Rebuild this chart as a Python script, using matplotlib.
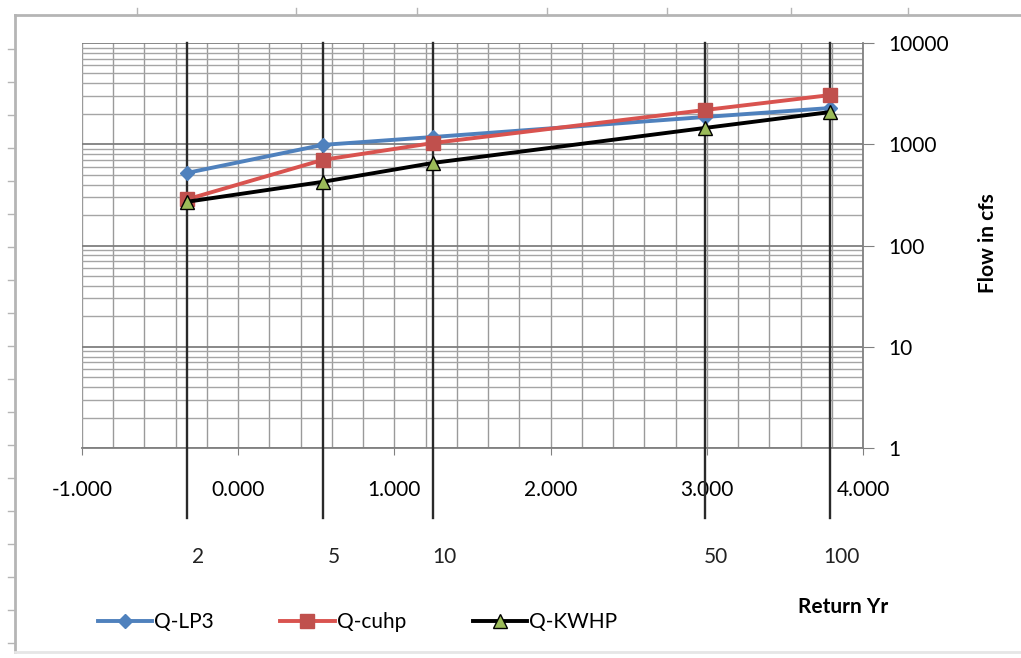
import numpy as np
import matplotlib.pyplot as plt
from matplotlib.lines import Line2D
from matplotlib.ticker import NullFormatter
from matplotlib.transforms import blended_transform_factory

# return periods and their frequency-factor positions on the x axis
return_yr = ['2', '5', '10', '50', '100']
kt = [-0.33, 0.54, 1.25, 2.99, 3.79]

# peak flows (cfs)
q_lp3 = [520, 985, 1180, 1860, 2280]
q_cuhp = [285, 700, 1030, 2180, 3060]
q_kwhp = [270, 425, 655, 1450, 2080]

x_ticks = [-1, 0, 1, 2, 3, 4]
y_ticks = [1, 10, 100, 1000, 10000]

plt.rcParams['font.family'] = ['Lato', 'DejaVu Sans']

W, H = 1021, 658
fig = plt.figure(figsize=(W / 100, H / 100), dpi=100)
ax = fig.add_axes([82 / W, 1 - 448 / H, (863 - 82) / W, (448 - 43) / H])

ax.set_xlim(-1, 4)
ax.set_yscale('log')
ax.set_ylim(1, 10000)

# grid
ax.set_xticks(x_ticks)
ax.set_xticks(np.arange(-1, 4.01, 0.2), minor=True)
ax.set_xticklabels([f'{v:.3f}' for v in x_ticks])
ax.set_yticks(y_ticks)
ax.set_yticklabels([str(v) for v in y_ticks])
ax.yaxis.set_minor_formatter(NullFormatter())
ax.grid(which='both', axis='x', color='#9a9a9a', lw=1.0)
ax.grid(which='major', axis='y', color='#7f7f7f', lw=1.3)
ax.grid(which='minor', axis='y', color='#a5a5a5', lw=1.0)
ax.set_axisbelow(True)

ax.yaxis.tick_right()
for s in ['top', 'left']:
    ax.spines[s].set_visible(False)
for s in ['bottom', 'right']:
    ax.spines[s].set_color('#808080')
    ax.spines[s].set_linewidth(1.3)
ax.tick_params(axis='y', which='major', direction='out', length=8, color='#808080',
               labelsize=15, pad=10)
ax.tick_params(axis='y', which='minor', length=0)
ax.tick_params(axis='x', which='major', direction='out', length=5, color='#808080',
               labelsize=15, pad=18)
ax.tick_params(axis='x', which='minor', length=0)

# return-period marker lines, running below the axis
trans = blended_transform_factory(ax.transData, ax.transAxes)
for x, lab in zip(kt, return_yr):
    ax.plot([x, x], [1, -0.173], transform=trans, color='#2a2a2a', lw=1.7,
            clip_on=False, zorder=3)
    ax.annotate(lab, (x, -0.269), xycoords=trans, xytext=(8, 0),
                textcoords='offset points', ha='center', va='center', fontsize=15,
                color='#222222')

ax.plot(kt, q_lp3, color='#4F81BD', lw=2.8, marker='D', ms=7,
        mfc='#4F81BD', mec='#4F81BD', label='Q-LP3', zorder=4)
ax.plot(kt, q_cuhp, color='#D9534F', lw=2.8, marker='s', ms=10,
        mfc='#C0504D', mec='#C0504D', label='Q-cuhp', zorder=5)
ax.plot(kt, q_kwhp, color='black', lw=2.8, marker='^', ms=10,
        mfc='#9BBB59', mec='black', mew=1, label='Q-KWHP', zorder=6)

fig.legend(loc='center', bbox_to_anchor=(0.35, 1 - 622 / H), ncol=3, frameon=False,
           fontsize=15, handlelength=2.6, handletextpad=0.1, columnspacing=3.2)

fig.text(988 / W, 1 - 243 / H, 'Flow in cfs', rotation=90, fontsize=15,
         fontweight='bold', ha='center', va='center')
fig.text(843 / W, 1 - 607 / H, 'Return Yr', fontsize=15, fontweight='bold',
         ha='center', va='center')

# faint outer sheet frame
frame = '#b5b5b5'
fig.add_artist(Line2D([15 / W, 1], [1 - 15 / H, 1 - 15 / H], color=frame, lw=2))
fig.add_artist(Line2D([15 / W, 15 / W], [1 - 15 / H, 1 - 652 / H], color=frame, lw=2))
fig.add_artist(Line2D([15 / W, 1], [1 - 652 / H, 1 - 652 / H], color='#e6e6e6', lw=2))
for yp in range(49, 650, 33):
    fig.add_artist(Line2D([8 / W, 15 / W], [1 - yp / H, 1 - yp / H], color=frame, lw=1))
for xp in [137, 296, 417, 547, 667, 791, 908]:
    fig.add_artist(Line2D([xp / W, xp / W], [1 - 8 / H, 1 - 15 / H], color=frame, lw=1))

fig.savefig('out.png', dpi=100)
